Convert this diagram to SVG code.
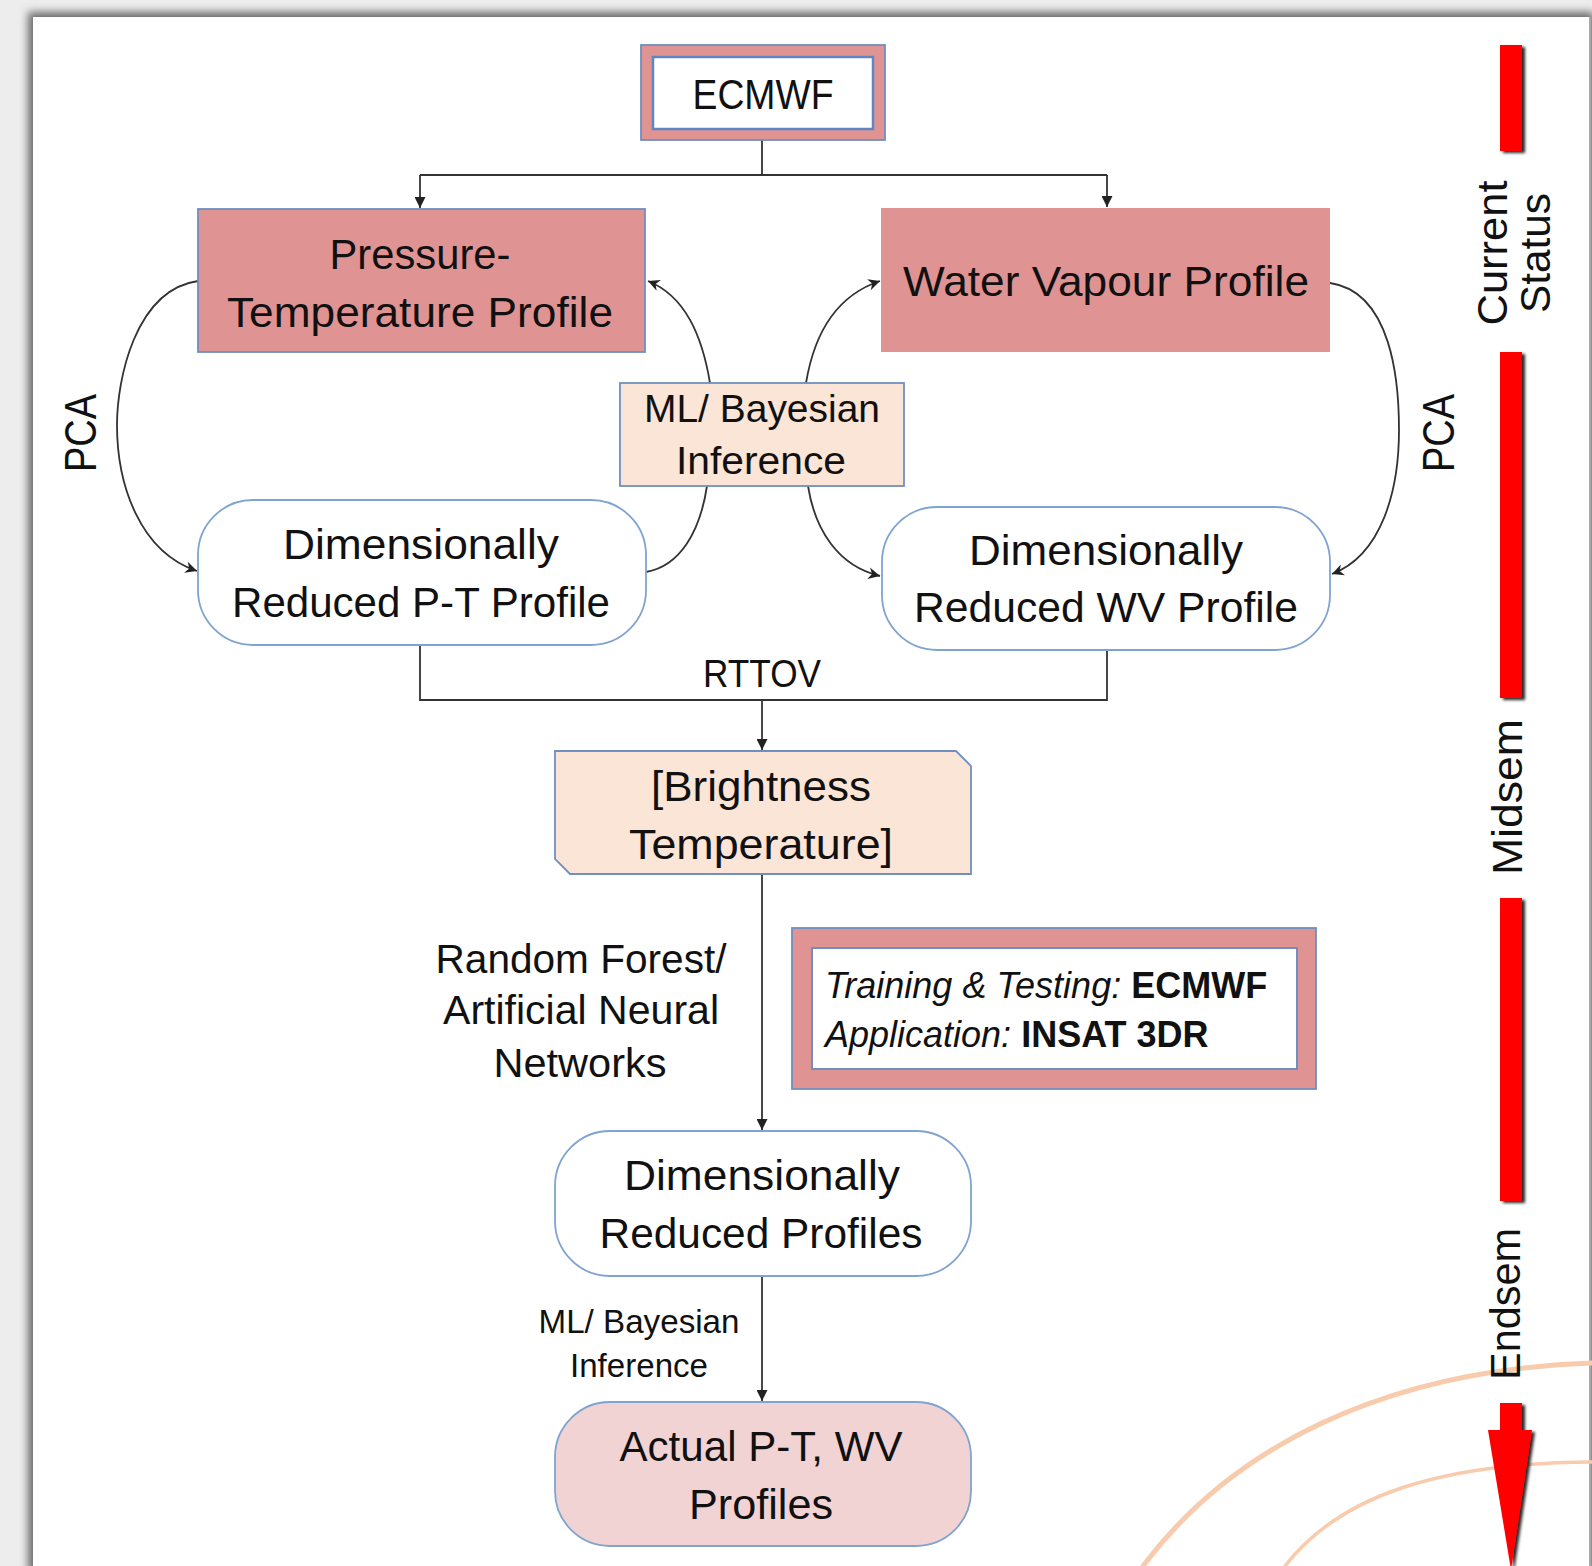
<svg xmlns="http://www.w3.org/2000/svg" width="1592" height="1566" viewBox="0 0 1592 1566">
<defs>
<style>
.t{font-family:"Liberation Sans",Arial,sans-serif;fill:#111;text-anchor:middle}
.big{font-size:43px}
.med{font-size:39px}
.box{stroke:#6f8fc0;stroke-width:1.8}
.salmon{fill:#e09393}
.peach{fill:#fbe5d6}
.rnd{fill:#fff;stroke:#7fa4d0;stroke-width:1.8}
.conn{fill:none;stroke:#333;stroke-width:1.8}
.bar{fill:#ff0000;filter:url(#sh)}
.deco{fill:none;stroke:#f8cbad;stroke-linecap:round}
</style>
<marker id="ah" viewBox="0 0 10 10" refX="10" refY="5" markerWidth="11" markerHeight="11" markerUnits="userSpaceOnUse" orient="auto">
<path d="M0,0 L10,5 L0,10 Z" fill="#222"/>
</marker>
<marker id="oa" viewBox="0 0 12 12" refX="11" refY="6" markerWidth="14" markerHeight="14" markerUnits="userSpaceOnUse" orient="auto">
<path d="M1,1 L11,6 L1,11 L4,6 Z" fill="#222"/>
</marker>
<filter id="blur" x="-5%" y="-5%" width="110%" height="110%"><feGaussianBlur stdDeviation="4"/></filter>
<filter id="sh" x="-50%" y="-10%" width="200%" height="120%"><feDropShadow dx="3" dy="2" stdDeviation="1.5" flood-color="#000" flood-opacity="0.85"/></filter>
</defs>

<g id="page">
<rect x="0" y="0" width="1592" height="1566" fill="#ededed"/>
<rect x="28" y="12" width="1566" height="1560" fill="#6a6a6a" filter="url(#blur)"/>
<rect x="33" y="17" width="1557" height="1549" fill="#fff"/>
<line x1="1590" y1="17" x2="1590" y2="1566" stroke="#a8a8a8" stroke-width="2"/>
</g>

<g id="decoration">
<path class="deco" stroke-width="5" d="M1143,1566 C1230,1450 1380,1370 1592,1363"/>
<path class="deco" stroke-width="3.5" d="M1285,1566 C1340,1495 1440,1463 1592,1462"/>
</g>

<g id="connectors">
<path class="conn" d="M762,140 V175 M420,175 H1107"/>
<path class="conn" d="M420,175 V208" marker-end="url(#ah)"/>
<path class="conn" d="M1107,175 V207" marker-end="url(#ah)"/>
<path class="conn" d="M420,645 V700 H1107 V650"/>
<path class="conn" d="M762,700 V750" marker-end="url(#ah)"/>
<path class="conn" d="M762,874 V1130" marker-end="url(#ah)"/>
<path class="conn" d="M762,1276 V1401" marker-end="url(#ah)"/>
<path class="conn" stroke-width="1.5" d="M198,281 C135,290 117,380 117,425 C117,485 140,552 197,571" marker-end="url(#oa)"/>
<path class="conn" stroke-width="1.5" d="M1330,283 C1392,292 1399,382 1399,430 C1399,490 1382,555 1332,574" marker-end="url(#oa)"/>
<path class="conn" stroke-width="1.5" d="M710,383 C702,335 685,296 648,281" marker-end="url(#oa)"/>
<path class="conn" stroke-width="1.5" d="M806,383 C814,335 835,296 880,281" marker-end="url(#oa)"/>
<path class="conn" stroke-width="1.5" d="M646,572 C680,566 700,532 707,486"/>
<path class="conn" stroke-width="1.5" d="M808,486 C815,530 838,566 880,576" marker-end="url(#oa)"/>
</g>

<g id="ecmwf">
<rect class="box salmon" x="641" y="45" width="244" height="95"/>
<rect x="653" y="57" width="220" height="72" fill="#fff" stroke="#5f86c0" stroke-width="2.5"/>
<text class="t big" x="763" y="109" textLength="141" lengthAdjust="spacingAndGlyphs">ECMWF</text>
</g>

<g id="pt-profile">
<rect class="box salmon" x="198" y="209" width="447" height="143"/>
<text class="t big" x="420" y="269" textLength="181" lengthAdjust="spacingAndGlyphs">Pressure-</text>
<text class="t big" x="420" y="327" textLength="386" lengthAdjust="spacingAndGlyphs">Temperature Profile</text>
</g>

<g id="wv-profile">
<rect class="salmon" x="881" y="208" width="449" height="144"/>
<text class="t big" x="1106" y="296" textLength="406" lengthAdjust="spacingAndGlyphs">Water Vapour Profile</text>
</g>

<g id="ml-bayesian">
<rect class="box peach" x="620" y="383" width="284" height="103"/>
<text class="t med" x="762" y="422" textLength="236" lengthAdjust="spacingAndGlyphs">ML/ Bayesian</text>
<text class="t med" x="761" y="474" textLength="170" lengthAdjust="spacingAndGlyphs">Inference</text>
</g>

<g id="dr-pt">
<rect class="rnd" x="198" y="500" width="448" height="145" rx="55" ry="55"/>
<text class="t big" x="421" y="559" textLength="276" lengthAdjust="spacingAndGlyphs">Dimensionally</text>
<text class="t big" x="421" y="617" textLength="378" lengthAdjust="spacingAndGlyphs">Reduced P-T Profile</text>
</g>

<g id="dr-wv">
<rect class="rnd" x="882" y="507" width="448" height="143" rx="55" ry="55"/>
<text class="t big" x="1106" y="565" textLength="274" lengthAdjust="spacingAndGlyphs">Dimensionally</text>
<text class="t big" x="1106" y="622" textLength="384" lengthAdjust="spacingAndGlyphs">Reduced WV Profile</text>
</g>

<g id="rttov-label">
<text class="t" font-size="38" x="762" y="687" textLength="118" lengthAdjust="spacingAndGlyphs">RTTOV</text>
</g>

<g id="brightness">
<path class="box peach" d="M555,751 H956 L971,766 V874 H570 L555,859 Z"/>
<text class="t big" x="761" y="801" textLength="220" lengthAdjust="spacingAndGlyphs">[Brightness</text>
<text class="t big" x="761" y="859" textLength="264" lengthAdjust="spacingAndGlyphs">Temperature]</text>
</g>

<g id="rf-label">
<text class="t" font-size="40" x="581" y="973" textLength="291" lengthAdjust="spacingAndGlyphs">Random Forest/</text>
<text class="t" font-size="40" x="581" y="1024" textLength="276" lengthAdjust="spacingAndGlyphs">Artificial Neural</text>
<text class="t" font-size="40" x="580" y="1077" textLength="173" lengthAdjust="spacingAndGlyphs">Networks</text>
</g>

<g id="data-note">
<rect class="box salmon" x="792" y="928" width="524" height="161"/>
<rect x="812" y="948" width="485" height="121" fill="#fff" stroke="#6f8fc0" stroke-width="2"/>
<text class="t" font-size="36" x="825" y="998" style="text-anchor:start"><tspan font-style="italic">Training &amp; Testing: </tspan><tspan font-weight="bold">ECMWF</tspan></text>
<text class="t" font-size="36" x="825" y="1047" style="text-anchor:start"><tspan font-style="italic">Application: </tspan><tspan font-weight="bold">INSAT 3DR</tspan></text>
</g>

<g id="dr-profiles">
<rect class="rnd" x="555" y="1131" width="416" height="145" rx="55" ry="55"/>
<text class="t big" x="762" y="1190" textLength="276" lengthAdjust="spacingAndGlyphs">Dimensionally</text>
<text class="t big" x="761" y="1248" textLength="323" lengthAdjust="spacingAndGlyphs">Reduced Profiles</text>
</g>

<g id="ml-label">
<text class="t" font-size="33" x="639" y="1333" textLength="201" lengthAdjust="spacingAndGlyphs">ML/ Bayesian</text>
<text class="t" font-size="33" x="639" y="1377" textLength="138" lengthAdjust="spacingAndGlyphs">Inference</text>
</g>

<g id="actual">
<rect x="555" y="1402" width="416" height="144" rx="55" ry="55" fill="#f2d3d4" stroke="#7fa4d0" stroke-width="1.8"/>
<text class="t big" x="761" y="1461" textLength="283" lengthAdjust="spacingAndGlyphs">Actual P-T, WV</text>
<text class="t big" x="761" y="1519" textLength="144" lengthAdjust="spacingAndGlyphs">Profiles</text>
</g>

<g id="pca-left">
<text class="t" font-size="44" transform="translate(96,433) rotate(-90)" textLength="78" lengthAdjust="spacingAndGlyphs">PCA</text>
</g>
<g id="pca-right">
<text class="t" font-size="44" transform="translate(1454,433) rotate(-90)" textLength="78" lengthAdjust="spacingAndGlyphs">PCA</text>
</g>

<g id="timeline">
<rect class="bar" x="1500" y="45" width="22" height="106"/>
<rect class="bar" x="1500" y="352" width="22" height="346"/>
<rect class="bar" x="1500" y="898" width="22" height="303"/>
<path class="bar" d="M1500,1403 H1522 V1430 H1532 L1511,1570 L1488,1430 H1500 Z"/>
<text class="t" font-size="43" transform="translate(1507,253) rotate(-90)" textLength="145" lengthAdjust="spacingAndGlyphs">Current</text>
<text class="t" font-size="43" transform="translate(1550,253) rotate(-90)" textLength="120" lengthAdjust="spacingAndGlyphs">Status</text>
<text class="t" font-size="43" transform="translate(1522,797) rotate(-90)" textLength="156" lengthAdjust="spacingAndGlyphs">Midsem</text>
<text class="t" font-size="43" transform="translate(1520,1304) rotate(-90)" textLength="152" lengthAdjust="spacingAndGlyphs">Endsem</text>
</g>
</svg>
